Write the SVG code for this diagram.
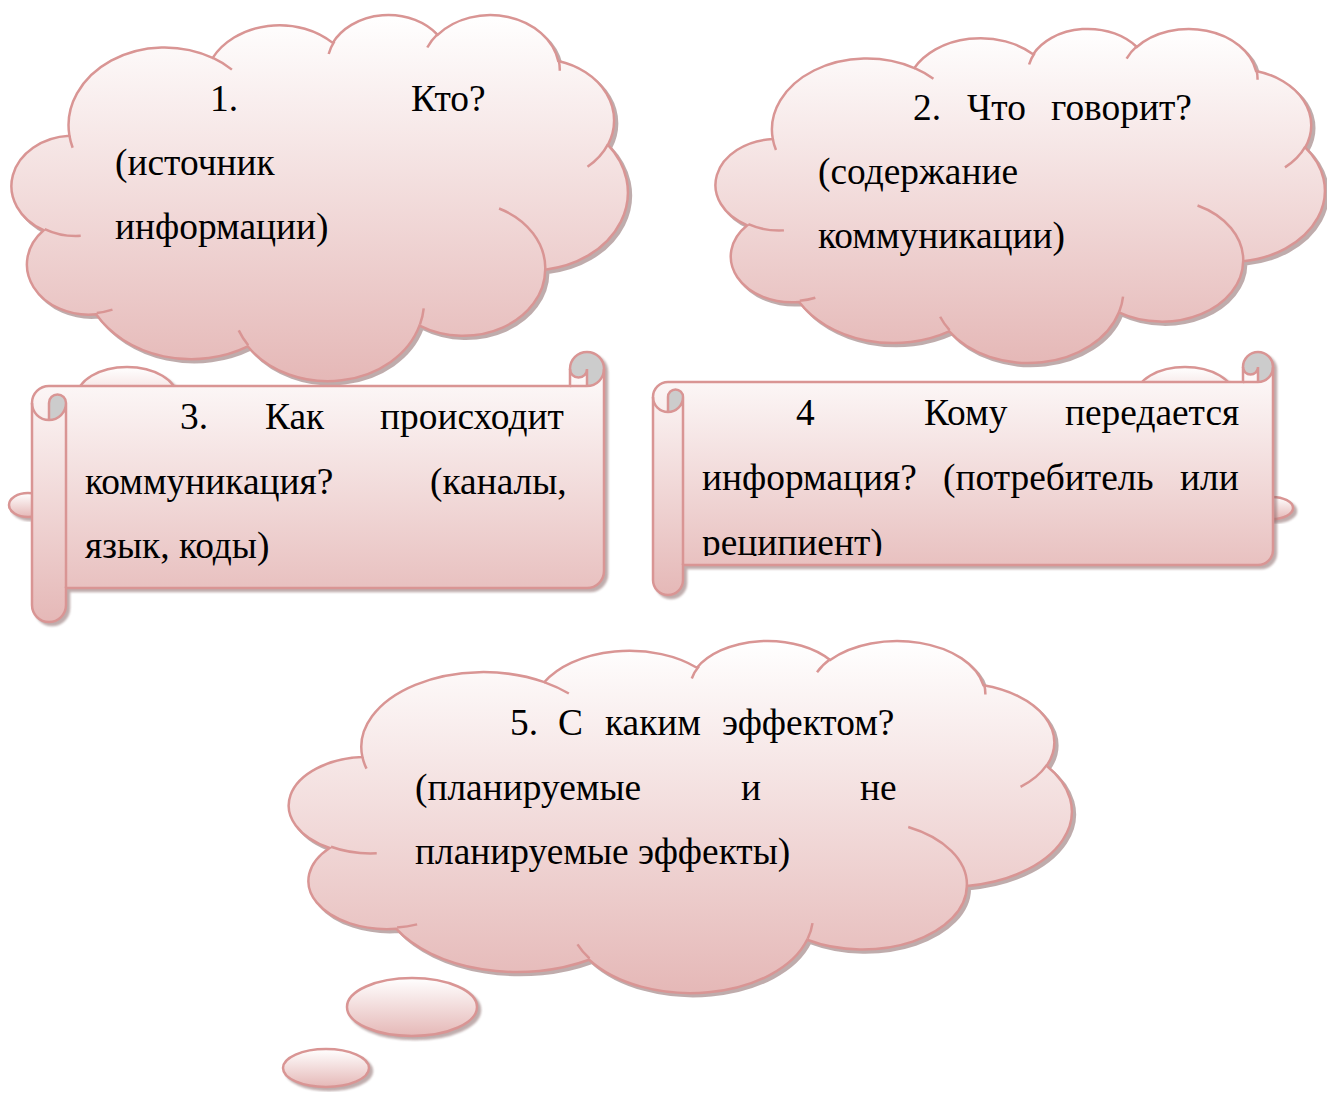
<svg xmlns="http://www.w3.org/2000/svg" xmlns:xlink="http://www.w3.org/1999/xlink" width="1327" height="1101" viewBox="0 0 1327 1101">
<defs>
<linearGradient id="pink" x1="0" y1="0" x2="0" y2="1">
<stop offset="0" stop-color="#ffffff"/>
<stop offset="1" stop-color="#e5b8b7"/>
</linearGradient>
<path id="cloudOutline" vector-effect="non-scaling-stroke" d="M3900,14370 A6753,9190 0 0 1 13975,5178 A5333,7267 0 0 1 22427,3410 A4365,5945 0 0 1 29804,2458 A4857,6595 0 0 1 38290,5553 A5333,7273 0 0 1 41790,15437 A6775,9220 0 0 1 37375,30179 A5785,7867 0 0 1 28527,36789 A6752,9215 0 0 1 16452,39243 A7720,10543 0 0 1 5776,35447 A4360,5918 0 0 1 2085,25525 A4345,5945 0 0 1 3900,14370 Z"/>
<path id="cloudInner" vector-effect="non-scaling-stroke" d="M4693,26177 A4345,5945 0 0 1 2159,25379 M6928,34899 A4360,5918 0 0 1 5820,35281 M16478,39090 A6752,9215 0 0 1 15810,37348 M28827,34751 A6752,9215 0 0 1 28560,36660 M34129,22954 A5785,7867 0 0 1 37381,30090 M41798,15354 A5333,7273 0 0 1 40350,18030 M38324,5426 A4857,6595 0 0 1 38400,6690 M29078,3952 A4857,6595 0 0 1 29820,2340 M22141,4720 A4365,5945 0 0 1 22540,3225 M14000,5192 A6753,9190 0 0 1 15332,6567 M4127,15789 A6753,9190 0 0 1 3900,14372"/>
<filter id="soft" x="-5%" y="-5%" width="110%" height="110%"><feGaussianBlur stdDeviation="1"/></filter>
<clipPath id="clip4"><rect x="640" y="380" width="640" height="176"/></clipPath>
</defs>
<style>
.fill{fill:url(#pink);stroke:#d99594;stroke-width:2.5}
.sheet{fill:url(#pink);stroke:none}
.shadow{fill:#8c6a6a;stroke:#8c6a6a;stroke-width:2.5;opacity:0.55;filter:url(#soft)}
.line{fill:none;stroke:#d99594;stroke-width:2.5}
.gray{fill:#cccccc;stroke:none}
text{font-family:"Liberation Serif","Times New Roman",serif;font-size:37.4px;fill:#000}
</style>

<g id="node1">
<ellipse class="shadow" cx="130" cy="400" rx="50" ry="30"/>
<ellipse class="fill" cx="127" cy="397" rx="50" ry="30"/>
<ellipse class="shadow" cx="31" cy="508" rx="19" ry="12"/>
<ellipse class="fill" cx="28" cy="505" rx="19" ry="12"/>
<use xlink:href="#cloudOutline" class="shadow" transform="translate(17 17) scale(0.014213 0.008472)"/>
<use xlink:href="#cloudOutline" class="fill" transform="translate(14 14) scale(0.014213 0.008472)"/>
<use xlink:href="#cloudInner" class="line" transform="translate(14 14) scale(0.014213 0.008472)"/>
<text x="210" y="111">1.</text>
<text x="411" y="111">Кто?</text>
<text x="115" y="175">(источник</text>
<text x="115" y="239">информации)</text>
</g>

<g id="node2">
<ellipse class="shadow" cx="1188" cy="399" rx="49" ry="29"/>
<ellipse class="fill" cx="1185" cy="396" rx="49" ry="29"/>
<ellipse class="shadow" cx="1275" cy="511" rx="21" ry="11"/>
<ellipse class="fill" cx="1272" cy="508" rx="21" ry="11"/>
<use xlink:href="#cloudOutline" class="shadow" transform="translate(721 31) scale(0.014051 0.007731)"/>
<use xlink:href="#cloudOutline" class="fill" transform="translate(718 28) scale(0.014051 0.007731)"/>
<use xlink:href="#cloudInner" class="line" transform="translate(718 28) scale(0.014051 0.007731)"/>
<text x="913" y="120">2.</text>
<text x="967" y="120">Что</text>
<text x="1051" y="120">говорит?</text>
<text x="818" y="184">(содержание</text>
<text x="818" y="248">коммуникации)</text>
</g>

<g id="node3">
<path class="shadow" d="M32,403 A17,17 0 0 1 49,386 L570,386 L570,369 A17,17 0 0 1 604,369 L604,571 A17,17 0 0 1 587,588 L66,588 L66,605 A17,17 0 0 1 32,605 Z" transform="translate(3 3)"/>
<path class="sheet" d="M32,403 A17,17 0 0 1 49,386 L570,386 L570,369 A17,17 0 0 1 604,369 L604,571 A17,17 0 0 1 587,588 L66,588 L66,605 A17,17 0 0 1 32,605 Z"/>
<path class="gray" d="M49,420 A17,17 0 0 0 66,403 A8.5,8.5 0 0 0 49,403 Z M587,386 A17,17 0 1 0 570,369 A8.5,8.5 0 0 0 587,369 Z"/>
<path class="line" d="M32,403 A17,17 0 0 1 49,386 L570,386 L570,369 A17,17 0 0 1 604,369 L604,571 A17,17 0 0 1 587,588 L66,588 L66,605 A17,17 0 0 1 32,605 Z"/>
<path class="line" d="M570,386 L587,386 A17,17 0 0 0 604,369 M587,386 L587,369 A8.5,8.5 0 0 1 570,369 M49,420 L49,403 A8.5,8.5 0 0 1 66,403 A17,17 0 0 1 32,403 M66,403 L66,588"/>
<text x="180" y="429">3.</text>
<text x="265" y="429">Как</text>
<text x="380" y="429">происходит</text>
<text x="85" y="494">коммуникация?</text>
<text x="430" y="494">(каналы,</text>
<text x="85" y="558">язык, коды)</text>
</g>

<g id="node4">
<path class="shadow" d="M653,397 A15,15 0 0 1 668,382 L1243,382 L1243,367 A15,15 0 0 1 1273,367 L1273,550 A15,15 0 0 1 1258,565 L683,565 L683,580 A15,15 0 0 1 653,580 Z" transform="translate(3 3)"/>
<path class="sheet" d="M653,397 A15,15 0 0 1 668,382 L1243,382 L1243,367 A15,15 0 0 1 1273,367 L1273,550 A15,15 0 0 1 1258,565 L683,565 L683,580 A15,15 0 0 1 653,580 Z"/>
<path class="gray" d="M668,412 A15,15 0 0 0 683,397 A7.5,7.5 0 0 0 668,397 Z M1258,382 A15,15 0 1 0 1243,367 A7.5,7.5 0 0 0 1258,367 Z"/>
<path class="line" d="M653,397 A15,15 0 0 1 668,382 L1243,382 L1243,367 A15,15 0 0 1 1273,367 L1273,550 A15,15 0 0 1 1258,565 L683,565 L683,580 A15,15 0 0 1 653,580 Z"/>
<path class="line" d="M1243,382 L1258,382 A15,15 0 0 0 1273,367 M1258,382 L1258,367 A7.5,7.5 0 0 1 1243,367 M668,412 L668,397 A7.5,7.5 0 0 1 683,397 A15,15 0 0 1 653,397 M683,397 L683,565"/>
<g clip-path="url(#clip4)">
<text x="796" y="425">4</text>
<text x="924" y="425">Кому</text>
<text x="1065" y="425">передается</text>
<text x="702" y="490">информация?</text>
<text x="943" y="490">(потребитель</text>
<text x="1180" y="490">или</text>
<text x="702" y="555">реципиент)</text>
</g>
</g>

<g id="node5">
<ellipse class="shadow" cx="415" cy="1010" rx="65" ry="29"/>
<ellipse class="fill" cx="412" cy="1007" rx="65" ry="29"/>
<ellipse class="shadow" cx="329" cy="1071" rx="43" ry="19"/>
<ellipse class="fill" cx="326" cy="1068" rx="43" ry="19"/>
<use xlink:href="#cloudOutline" class="shadow" transform="translate(295 643) scale(0.018056 0.008148)"/>
<use xlink:href="#cloudOutline" class="fill" transform="translate(292 640) scale(0.018056 0.008148)"/>
<use xlink:href="#cloudInner" class="line" transform="translate(292 640) scale(0.018056 0.008148)"/>
<text x="510" y="735">5.</text>
<text x="558" y="735">С</text>
<text x="605" y="735">каким</text>
<text x="722" y="735">эффектом?</text>
<text x="415" y="800">(планируемые</text>
<text x="741" y="800">и</text>
<text x="860" y="800">не</text>
<text x="415" y="864">планируемые эффекты)</text>
</g>

<g id="connectors"></g>
</svg>
